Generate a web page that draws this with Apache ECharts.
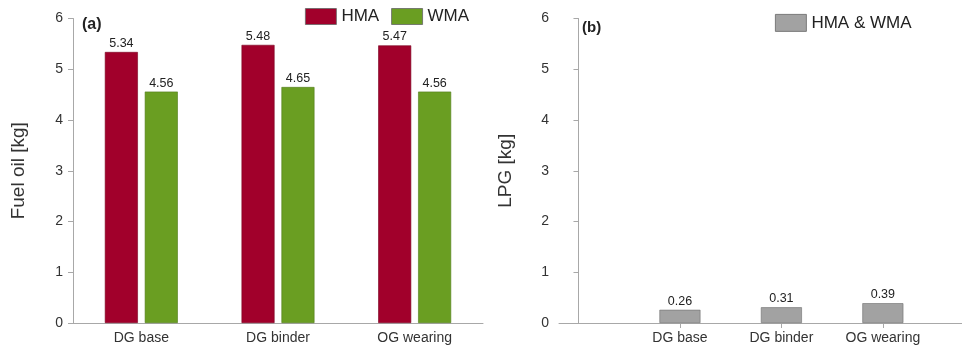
<!DOCTYPE html>
<html><head><meta charset="utf-8">
<script src="https://cdn.jsdelivr.net/npm/echarts@6/dist/echarts.min.js"></script>
<style>html,body{margin:0;padding:0;background:#fff}#c{width:962px;height:355px}</style>
</head><body><div id="c"></div>
<script>
const categories = ['DG base', 'DG binder', 'OG wearing'];
const hmaFuel = [5.34, 5.48, 5.47];
const wmaFuel = [4.56, 4.65, 4.56];
const lpg = [0.26, 0.31, 0.39];
const yTicks = [0, 1, 2, 3, 4, 5, 6];

const FONT = '"Liberation Sans", Arial, sans-serif';
const axisGray = '#a8a8a8';
const chart = echarts.init(document.getElementById('c'));

const yAxisCommon = {
  type: 'value', min: 0, max: 6, interval: 1,
  axisLine: { show: true, lineStyle: { color: axisGray, width: 1 } },
  axisTick: { show: true, length: 5, lineStyle: { color: axisGray } },
  axisLabel: { color: '#333', fontSize: 14, fontFamily: FONT, margin: 10 },
  splitLine: { show: false },
  nameLocation: 'middle', nameRotate: 90,
  nameTextStyle: { color: '#333', fontSize: 19, fontFamily: FONT }
};
const labelStyle = { show: true, position: 'top', distance: 2, color: '#222', fontSize: 12.5, fontFamily: FONT };

chart.setOption({
  animation: false,
  textStyle: { fontFamily: FONT },
  title: [
    { text: '(a)', left: 77, top: 12, textStyle: { fontSize: 16, fontWeight: 'bold', color: '#222', fontFamily: FONT } },
    { text: '(b)', left: 577, top: 15, textStyle: { fontSize: 15, fontWeight: 'bold', color: '#222', fontFamily: FONT } }
  ],
  legend: [
    { data: ['HMA', 'WMA'], left: 300, top: 3, itemWidth: 31, itemHeight: 16, itemGap: 12,
      icon: 'rect', itemStyle: { borderWidth: 0.8, borderColor: '#666' },
      textStyle: { fontSize: 17, color: '#222', fontFamily: FONT } },
    { data: ['HMA & WMA'], left: 770, top: 9, itemWidth: 31, itemHeight: 17,
      icon: 'rect', itemStyle: { borderWidth: 0.8, borderColor: '#666' },
      textStyle: { fontSize: 17, color: '#222', fontFamily: FONT } }
  ],
  grid: [
    { left: 73, top: 18.5, width: 410, height: 304.5 },
    { left: 559, top: 18.5, width: 403, height: 304.5 }
  ],
  xAxis: [
    { type: 'category', gridIndex: 0, data: categories,
      axisLine: { lineStyle: { color: axisGray } },
      axisTick: { alignWithLabel: true, length: 5, lineStyle: { color: axisGray } },
      axisLabel: { color: '#333', fontSize: 14, fontFamily: FONT, margin: 8 } },
    { type: 'value', gridIndex: 1, min: -0.192, max: 3.78,
      splitLine: { show: false },
      axisLine: { show: true, lineStyle: { color: axisGray } },
      axisTick: { show: true, length: 5, customValues: [1, 2, 3], lineStyle: { color: axisGray } },
      axisLabel: { color: '#333', fontSize: 14, fontFamily: FONT, margin: 8,
        customValues: [1, 2, 3], formatter: v => categories[Math.round(v) - 1] || '' } }
  ],
  yAxis: [
    Object.assign({}, yAxisCommon, { gridIndex: 0, name: 'Fuel oil [kg]', nameGap: 45 }),
    Object.assign({}, yAxisCommon, { gridIndex: 1, name: 'LPG [kg]', nameGap: 44 })
  ],
  series: [
    { name: 'HMA', type: 'bar', xAxisIndex: 0, yAxisIndex: 0, data: hmaFuel,
      barWidth: 33, barGap: '21%',
      itemStyle: { color: '#a1002b', borderColor: '#7a0020', borderWidth: 0.6 }, label: labelStyle },
    { name: 'WMA', type: 'bar', xAxisIndex: 0, yAxisIndex: 0, data: wmaFuel,
      barWidth: 33, barGap: '21%',
      itemStyle: { color: '#6a9e22', borderColor: '#4f7a18', borderWidth: 0.6 }, label: labelStyle },
    { name: 'HMA & WMA', type: 'bar', xAxisIndex: 1, yAxisIndex: 1,
      data: lpg.map((v, i) => [i + 1, v]), barWidth: 41,
      itemStyle: { color: '#a2a2a2', borderColor: '#6e6e6e', borderWidth: 0.6 },
      label: Object.assign({}, labelStyle, { formatter: p => p.value[1].toFixed(2) }) }
  ]
});
</script></body></html>
